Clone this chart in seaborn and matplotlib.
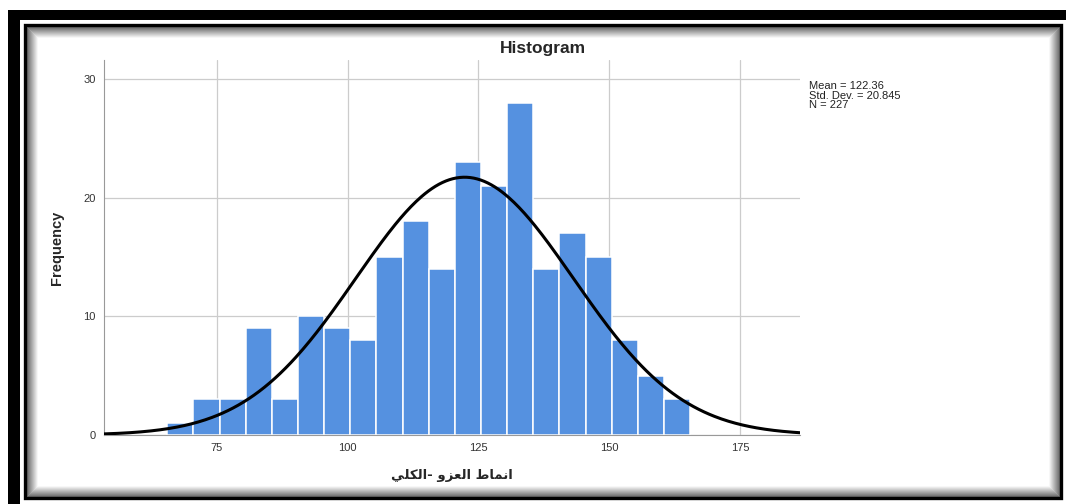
import numpy as np
import matplotlib
matplotlib.use("Agg")
import matplotlib.pyplot as plt
import seaborn as sns
from matplotlib.patches import Rectangle

limites = [65.5, 70.5, 75.5, 80.5, 85.5, 90.5, 95.5, 100.5, 105.5, 110.5, 115.5,
           120.5, 125.5, 130.5, 135.5, 140.5, 145.5, 150.5, 155.5, 160.5, 165.5]
frequencias = [1, 3, 3, 9, 3, 10, 9, 8, 15, 18, 14, 23, 21, 28, 14, 17, 15, 8, 5, 3]
media = 122.36
desvio = 20.845
n = 227
ticks_x = [75, 100, 125, 150, 175]
ticks_y = [0, 10, 20, 30]

# Rótulo do eixo x em árabe (formas de apresentação, ordem visual)
rotulo_x = "\ufef2\ufee0\ufedc\ufedf\ufe8d- \ufeed\ufeb0\ufecc\ufedf\ufe8d \ufec1\ufe8e\ufee4\ufee7\ufe8d"

sns.set_style("white")
plt.rcParams['font.family'] = ['Liberation Sans', 'DejaVu Sans']

W, H = 1066, 504
fig = plt.figure(figsize=(W / 100, H / 100), dpi=100)

# Moldura (fundo)
bg = fig.add_axes([0, 0, 1, 1], zorder=-1)
bg.set_xlim(0, W)
bg.set_ylim(H, 0)
bg.axis('off')
bg.add_patch(Rectangle((8, 10), W - 8, 10, color='black', lw=0))
bg.add_patch(Rectangle((8, 10), 12, H - 10, color='black', lw=0))
x0, y0, x1, y1 = 24.5, 24.5, 1060.5, 497.5
for i in range(12):
    g = min(1.0, 0.42 + 0.055 * i)
    d = 2 + i
    bg.add_patch(Rectangle((x0 + d, y0 + d), (x1 - x0) - 2 * d, (y1 - y0) - 2 * d,
                           fill=False, edgecolor=(g, g, g), lw=0.8))
bg.add_patch(Rectangle((x0 + 14, y0 + 14), (x1 - x0) - 28, (y1 - y0) - 28,
                       color='white', lw=0))
bg.add_patch(Rectangle((x0, y0), x1 - x0, y1 - y0, fill=False, edgecolor='black', lw=2.4))

# Histograma
ax = fig.add_axes([104 / W, 1 - 435 / H, 696 / W, 375 / H])
centros = [(a + b) / 2 for a, b in zip(limites[:-1], limites[1:])]
sns.histplot(x=centros, weights=frequencias, bins=limites, color='#5591e0',
             edgecolor='white', linewidth=1.1, alpha=1, ax=ax, zorder=2)

# Curva normal ajustada
largura = limites[1] - limites[0]
xs = np.linspace(53.4, 186.5, 400)
ys = n * largura * np.exp(-0.5 * ((xs - media) / desvio) ** 2) / (desvio * np.sqrt(2 * np.pi))
sns.lineplot(x=xs, y=ys, color='black', linewidth=2.2, ax=ax, zorder=3)

ax.set_xlim(53.4, 186.5)
ax.set_ylim(0, 31.6)
ax.set_xticks(ticks_x)
ax.set_yticks(ticks_y)
ax.grid(True, color='#cccccc', linewidth=0.9, zorder=0)
ax.set_axisbelow(True)
for s in ['top', 'right']:
    ax.spines[s].set_visible(False)
ax.spines['left'].set_color('#999999')
ax.spines['bottom'].set_color('#999999')
ax.tick_params(length=0, labelsize=8, colors='#333333', pad=6)
ax.set_xlabel(rotulo_x, fontsize=9.5, fontweight='bold', labelpad=11,
              family=['DejaVu Sans'])
ax.set_ylabel('Frequency', fontsize=10.5, fontweight='bold', labelpad=14)

fig.text(543 / W, 1 - 48 / H, 'Histogram', ha='center', va='center',
         fontsize=12.5, fontweight='bold')
fig.text(809 / W, 1 - 81 / H, 'Mean = 122.36\nStd. Dev. = 20.845\nN = 227',
         ha='left', va='top', fontsize=8, linespacing=0.95, color='#222222')

fig.savefig('out.png', dpi=100)
